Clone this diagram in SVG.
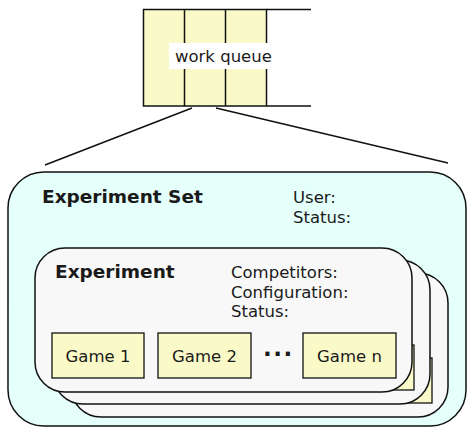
<svg xmlns="http://www.w3.org/2000/svg" width="468" height="428" viewBox="0 0 468 428">
<style>
text{font-family:"DejaVu Sans",sans-serif;fill:#1a1a1a}
.b{font-weight:bold;font-size:18.5px}
.r{font-size:16.5px}
.set{fill:#e5fffa;stroke:#111;stroke-width:1.5}
.exp{fill:#f8f8f8;stroke:#111;stroke-width:1.5}
.game{fill:#fafac8;stroke:#111;stroke-width:1.3}
.q{fill:#fafac8;stroke:#111;stroke-width:1.5}
.ln{fill:none;stroke:#111;stroke-width:1.5}
</style>
<g id="queue">
<path class="ln" d="M266.5 9.5 H311 M266.5 106 H311"/>
<rect class="q" x="143.5" y="9.5" width="123" height="96.5"/>
<line class="ln" x1="184.5" y1="9.5" x2="184.5" y2="106"/>
<line class="ln" x1="225.5" y1="9.5" x2="225.5" y2="106"/>
<rect x="169" y="43" width="104" height="26" fill="#fff"/>
<text class="r" x="175" y="62">work queue</text>
</g>
<g id="connectors">
<line class="ln" x1="192" y1="108" x2="45" y2="165"/>
<line class="ln" x1="216" y1="108" x2="448" y2="163"/>
</g>
<g id="experiment-set">
<rect class="set" x="8" y="172" width="458" height="254" rx="36"/>
<text class="b" x="42" y="203">Experiment Set</text>
<text class="r" x="293" y="203">User:</text>
<text class="r" x="293" y="223">Status:</text>
</g>
<g id="experiment-3" transform="translate(36,25)">
<rect class="exp" x="35" y="248" width="377" height="144" rx="30"/>
<rect class="game" x="303" y="333" width="93" height="45"/>
</g>
<g id="experiment-2" transform="translate(18,12)">
<rect class="exp" x="35" y="248" width="377" height="144" rx="30"/>
<rect class="game" x="303" y="333" width="93" height="45"/>
</g>
<g id="experiment">
<rect class="exp" x="35" y="248" width="377" height="144" rx="30"/>
<text class="b" x="55" y="278">Experiment</text>
<text class="r" x="231" y="278">Competitors:</text>
<text class="r" x="231" y="297.5">Configuration:</text>
<text class="r" x="231" y="317">Status:</text>
</g>
<g id="game-1">
<rect class="game" x="52" y="333" width="92" height="45"/>
<text class="r" x="98" y="361.5" text-anchor="middle">Game 1</text>
</g>
<g id="game-2">
<rect class="game" x="158" y="333" width="93" height="45"/>
<text class="r" x="204.5" y="361.5" text-anchor="middle">Game 2</text>
</g>
<text class="b" x="263" y="356" style="font-size:23px;letter-spacing:1.5px">...</text>
<g id="game-n">
<rect class="game" x="303" y="333" width="93" height="45"/>
<text class="r" x="349.5" y="361.5" text-anchor="middle">Game n</text>
</g>
</svg>
